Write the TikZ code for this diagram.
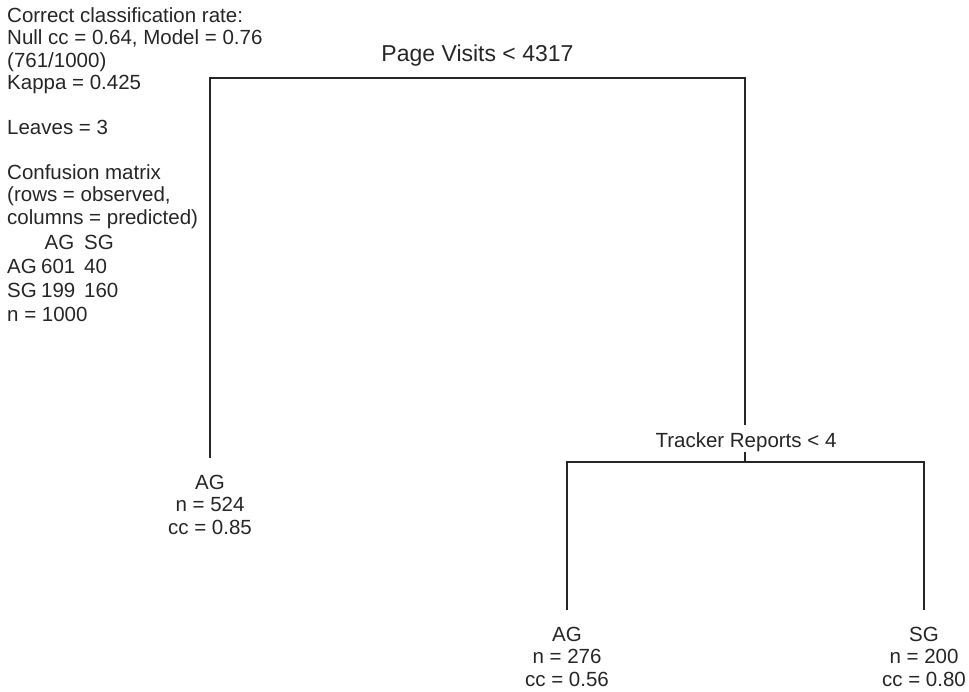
\documentclass[tikz,border=0pt]{standalone}
\usepackage{fontspec}
\setmainfont{Liberation Sans}
\usetikzlibrary{matrix}

\begin{document}
\begin{tikzpicture}[x=1pt, y=-1pt,
    txt/.style={inner sep=0pt, font=\fontsize{20.5}{22.4}\selectfont, text=black!85},
    leaf/.style={txt, align=center, anchor=north, outer ysep=17pt},
    branch/.style={draw=black!85, line width=1.3pt}]
  \useasboundingbox (0,0) rectangle (969,691);

  % summary text
  \node[txt, align=left, anchor=north west] (info) at (7,7.5)
    {Correct classification rate:\\ Null cc = 0.64, Model = 0.76\\ (761/1000)\\ Kappa = 0.425\\[22.4pt]
     Leaves = 3\\[22.4pt] Confusion matrix\\ (rows = observed,\\ columns = predicted)};
  \matrix[matrix of nodes, nodes in empty cells, anchor=north west, inner sep=0pt,
          nodes={txt, text width=33pt, align=left, text height=15pt, text depth=4pt},
          column 2/.style={nodes={text width=33pt, align=right}},
          row sep=5pt, column sep=1pt] (cm) at (7,234) {
    {} & AG  &[9pt] SG  \\
    AG & 601 &[9pt] 40  \\
    SG & 199 &[9pt] 160 \\
  };
  \node[txt, anchor=base west] (ntot) at (7,321) {n = 1000};

  % tree
  \coordinate (s1l) at (210,78);
  \coordinate (s1r) at (745,78);
  \coordinate (s2) at (745,462);
  \coordinate (s2l) at (567,462);
  \coordinate (s2r) at (924,462);
  \node[leaf] (l1) at (210,458) {AG\\ n = 524\\ cc = 0.85};
  \node[leaf] (l2) at (567,610) {AG\\ n = 276\\ cc = 0.56};
  \node[leaf] (l3) at (924,610) {SG\\ n = 200\\ cc = 0.80};

  \draw[branch] (l1.north) -- (s1l) -- (s1r) -- (s2);
  \draw[branch] (l2.north) -- (s2l) -- (s2r) -- (l3.north);

  \node[txt, font=\fontsize{23}{26}\selectfont, anchor=base] (pv) at (477.5,61.5) {Page Visits < 4317};
  \node[txt, fill=white, inner xsep=3pt, text height=22pt, text depth=5pt, anchor=base] (tr) at (746,447)
    {Tracker Reports < 4};
\end{tikzpicture}
\end{document}
